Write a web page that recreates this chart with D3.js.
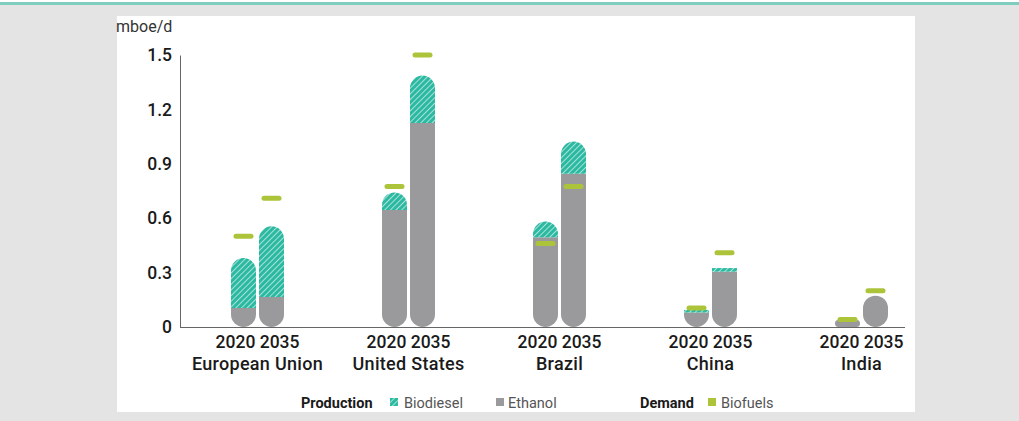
<!DOCTYPE html>
<html>
  <head>
    <meta charset="utf-8" />
    <title>Biofuels production and demand</title>
    <script src="https://d3js.org/d3.v7.min.js"></script>
    <style>
      body { margin: 0; background: #e4e4e4; }
      svg text { font-family: Roboto, "Noto Sans", sans-serif; }
    </style>
  </head>
  <body>
    <svg width="1019" height="421"></svg>
    <script>
      // Data (mboe/d)
      const regions = ["European Union", "United States", "Brazil", "China", "India"];
      const years = ["2020", "2035"];
      const ethanol = [[0.105, 0.165], [0.645, 1.125], [0.495, 0.845], [0.08, 0.305], [0.038, 0.173]];
      const biodiesel = [[0.275, 0.39], [0.097, 0.262], [0.087, 0.178], [0.014, 0.02], [0, 0]];
      const demand = [[0.5, 0.71], [0.775, 1.5], [0.46, 0.775], [0.105, 0.41], [0.042, 0.2]];
      const yTicks = [0, 0.3, 0.6, 0.9, 1.2, 1.5];

      const svg = d3.select("svg");

      // background pieces
      svg.append("rect").attr("x", 0).attr("y", 2).attr("width", 1019).attr("height", 3).attr("fill", "#7fcdbf");
      svg.append("rect").attr("x", 0).attr("y", 0).attr("width", 1019).attr("height", 2).attr("fill", "#fff");
      svg.append("rect").attr("x", 117).attr("y", 16).attr("width", 798).attr("height", 396).attr("fill", "#fff");

      // hatch pattern for biodiesel
      const pat = svg.append("defs").append("pattern")
        .attr("id", "hatch")
        .attr("patternUnits", "userSpaceOnUse")
        .attr("width", 4).attr("height", 4)
        .attr("patternTransform", "rotate(45)");
      pat.append("rect").attr("width", 4).attr("height", 4).attr("fill", "#2bb9a1");
      pat.append("line").attr("x1", 0).attr("y1", 0).attr("x2", 0).attr("y2", 4)
        .attr("stroke", "#fff").attr("stroke-width", 1.2);

      // scales
      const y = d3.scaleLinear().domain([0, 1.5]).range([327, 55]);
      const x = d3.scaleBand().domain(regions).range([182, 937]);
      const xYear = d3.scaleBand().domain(years).range([0, 53]).paddingInner(3 / 28);

      // y axis
      const yAxis = d3.axisLeft(y)
        .tickValues(yTicks)
        .tickSize(0)
        .tickPadding(8)
        .tickFormat((d) => (d === 0 ? "0" : d.toFixed(1)));
      const gy = svg.append("g").attr("transform", "translate(180,0)").call(yAxis);
      gy.select(".domain").attr("stroke", "#666");
      gy.selectAll("text").attr("font-size", 17.5).attr("font-weight", 500).attr("fill", "#1a1a1a");

      // x axis line
      svg.append("line")
        .attr("x1", 180).attr("x2", 905)
        .attr("y1", y(0) + 0.5).attr("y2", y(0) + 0.5)
        .attr("stroke", "#666");

      svg.append("text")
        .attr("x", 116).attr("y", 32)
        .attr("font-size", 16)
        .attr("fill", "#333")
        .text("mboe/d");

      // rounded segment path: rb = bottom radius, rt = top radius
      function seg(x0, w, y0, y1, rb, rt) {
        const p = d3.path();
        p.moveTo(x0, y1 - rb);
        p.lineTo(x0, y0 + rt);
        if (rt > 0) p.arcTo(x0, y0, x0 + rt, y0, rt);
        p.lineTo(x0 + w - rt, y0);
        if (rt > 0) p.arcTo(x0 + w, y0, x0 + w, y0 + rt, rt);
        p.lineTo(x0 + w, y1 - rb);
        if (rb > 0) p.arcTo(x0 + w, y1, x0 + w - rb, y1, rb);
        p.lineTo(x0 + rb, y1);
        if (rb > 0) p.arcTo(x0, y1, x0, y1 - rb, rb);
        p.closePath();
        return p.toString();
      }

      const bars = [];
      regions.forEach((r, i) => {
        years.forEach((yr, j) => {
          bars.push({ region: r, year: yr, eth: ethanol[i][j], bio: biodiesel[i][j], dem: demand[i][j] });
        });
      });

      const w = xYear.bandwidth();
      const R = w / 2;
      const g = svg.append("g");

      bars.forEach((d) => {
        const x0 = x(d.region) + x.bandwidth() / 2 - 26.5 + xYear(d.year);
        const hE = y(0) - y(d.eth);
        const hB = y(d.eth) - y(d.eth + d.bio);
        // ethanol
        let rb = d.bio > 0 ? Math.min(R, hE) : Math.min(R, hE / 2);
        let rt = d.bio > 0 ? 0 : Math.min(R, hE / 2);
        g.append("path")
          .attr("d", seg(x0, w, y(d.eth), y(0), rb, rt))
          .attr("fill", "#9a9a9d");
        // biodiesel
        if (d.bio > 0) {
          g.append("path")
            .attr("d", seg(x0, w, y(d.eth + d.bio), y(d.eth), 0, hB >= R ? R : 0))
            .attr("fill", "url(#hatch)");
        }
        // demand marker
        g.append("rect")
          .attr("x", x0 + w / 2 - 10)
          .attr("y", y(d.dem) - 2.5)
          .attr("width", 20).attr("height", 5)
          .attr("rx", 2.5)
          .attr("fill", "#acc43a");
      });

      // category labels
      const lab = svg.append("g").selectAll("g").data(regions).join("g")
        .attr("transform", (d) => "translate(" + (x(d) + x.bandwidth() / 2) + ",0)");
      lab.append("text")
        .attr("y", 348).attr("text-anchor", "middle")
        .attr("font-size", 17.5).attr("font-weight", 500).attr("fill", "#1a1a1a")
        .text(years.join(" "));
      lab.append("text")
        .attr("y", 370).attr("text-anchor", "middle")
        .attr("font-size", 18).attr("font-weight", 500).attr("fill", "#1a1a1a")
        .attr("letter-spacing", 0.3)
        .text((d) => d);

      // legend
      const leg = svg.append("g").attr("font-size", 14.5);
      leg.append("text").attr("x", 301).attr("y", 408).attr("font-weight", 700).attr("fill", "#1a1a1a").text("Production");
      leg.append("rect").attr("x", 390).attr("y", 398).attr("width", 8).attr("height", 8).attr("fill", "url(#hatch)");
      leg.append("text").attr("x", 404).attr("y", 408).attr("fill", "#555").text("Biodiesel");
      leg.append("rect").attr("x", 496).attr("y", 398).attr("width", 8).attr("height", 8).attr("fill", "#9a9a9d");
      leg.append("text").attr("x", 508).attr("y", 408).attr("fill", "#555").text("Ethanol");
      leg.append("text").attr("x", 640).attr("y", 408).attr("font-weight", 700).attr("fill", "#1a1a1a").text("Demand");
      leg.append("rect").attr("x", 708).attr("y", 398).attr("width", 8).attr("height", 8).attr("fill", "#acc43a");
      leg.append("text").attr("x", 721).attr("y", 408).attr("fill", "#555").text("Biofuels");
    </script>
  </body>
</html>
